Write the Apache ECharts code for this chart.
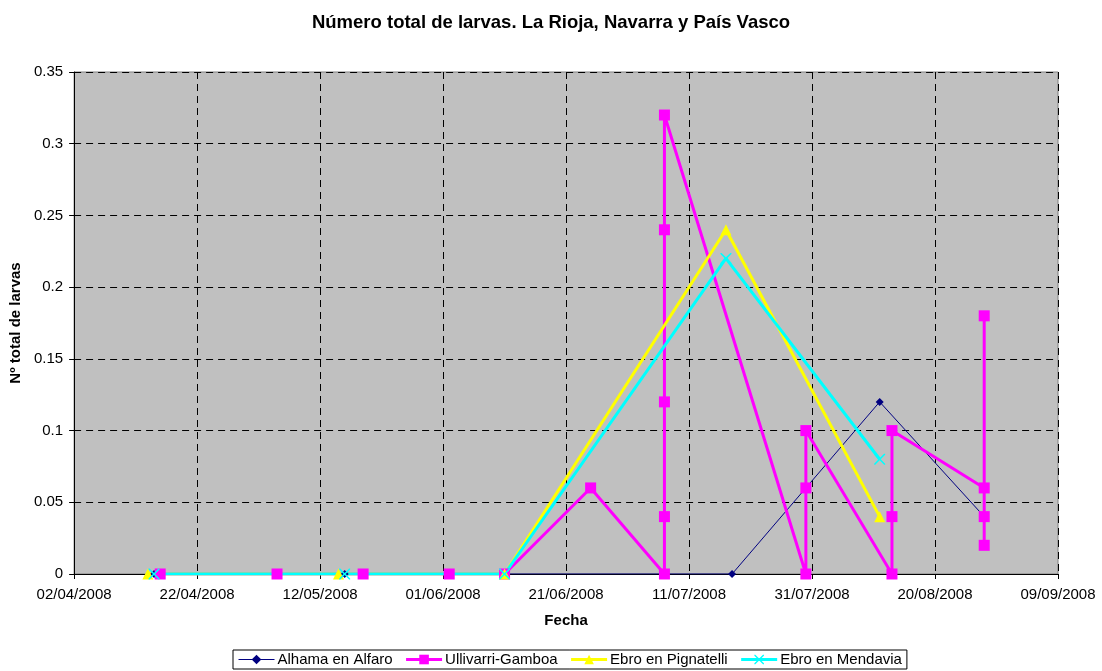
<!DOCTYPE html>
<html>
<head>
<meta charset="utf-8">
<script src="https://cdn.jsdelivr.net/npm/echarts@6/dist/echarts.min.js"></script>
<style>
html,body{margin:0;padding:0;background:#fff;}
#chart{width:1102px;height:671px;}
</style>
</head>
<body>
<div id="chart"></div>
<script>
// ---- Data ----
var startDate = '2008-04-02';
var xTickStepDays = 20;
var xMaxDays = 160;
var yTicks = [0, 0.05, 0.1, 0.15, 0.2, 0.25, 0.3, 0.35];

var seriesNames = ['Alhama en Alfaro', 'Ullivarri-Gamboa', 'Ebro en Pignatelli', 'Ebro en Mendavia'];

var alhamaDates  = ['2008-04-15', '2008-05-16', '2008-06-11', '2008-07-18', '2008-08-11', '2008-08-28'];
var alhamaValues = [0, 0, 0, 0, 0.12, 0.04];

var ullivarriDates  = ['2008-04-16', '2008-05-05', '2008-05-19', '2008-06-02', '2008-06-11', '2008-06-25',
                       '2008-07-07', '2008-07-07', '2008-07-07', '2008-07-07', '2008-07-07',
                       '2008-07-30', '2008-07-30', '2008-07-30',
                       '2008-08-13', '2008-08-13', '2008-08-13',
                       '2008-08-28', '2008-08-28', '2008-08-28', '2008-08-28'];
var ullivarriValues = [0, 0, 0, 0, 0, 0.06,
                       0, 0.04, 0.12, 0.24, 0.32,
                       0, 0.06, 0.1,
                       0, 0.04, 0.1,
                       0.06, 0.04, 0.02, 0.18];

var pignatelliDates  = ['2008-04-14', '2008-05-15', '2008-06-11', '2008-07-17', '2008-08-11'];
var pignatelliValues = [0, 0, 0, 0.24, 0.04];

var mendaviaDates  = ['2008-04-15', '2008-05-16', '2008-06-11', '2008-07-17', '2008-08-11'];
var mendaviaValues = [0, 0, 0, 0.22, 0.08];

// ---- Helpers ----
var DAY = 86400000;
function toMs(s){ var p = s.split('-'); return Date.UTC(+p[0], +p[1]-1, +p[2]); }
var startMs = toMs(startDate);
function dayOffset(s){ return Math.round((toMs(s) - startMs) / DAY); }
function pairs(dates, vals){ return dates.map(function(d,i){ return [dayOffset(d), vals[i]]; }); }
function pad(n){ return (n < 10 ? '0' : '') + n; }
function fmtDay(v){
  var d = new Date(startMs + v * DAY);
  return pad(d.getUTCDate()) + '/' + pad(d.getUTCMonth()+1) + '/' + d.getUTCFullYear();
}

var FONT = 'Liberation Sans, Arial, sans-serif';
var xSymbol = 'path://M0,0 L2,0 L10,8 L18,0 L20,0 L20,2 L12,10 L20,18 L20,20 L18,20 L10,12 L2,20 L0,20 L0,18 L8,10 L0,2 Z';

var styles = [
  {color:'#000080', width:1, symbol:'diamond', size:8},
  {color:'#FF00FF', width:3, symbol:'rect', size:11},
  {color:'#FFFF00', width:3, symbol:'triangle', size:11},
  {color:'#00FFFF', width:3, symbol:xSymbol, size:11}
];
var allData = [
  pairs(alhamaDates, alhamaValues),
  pairs(ullivarriDates, ullivarriValues),
  pairs(pignatelliDates, pignatelliValues),
  pairs(mendaviaDates, mendaviaValues)
];

var series = [];
allData.forEach(function(d, i){
  var st = styles[i];
  series.push({
    name: seriesNames[i], type:'line', data:d, z:2,
    symbol: st.symbol, symbolSize: st.size, showSymbol:false,
    lineStyle:{color:st.color, width:st.width},
    itemStyle:{color:st.color},
    animation:false
  });
});
allData.forEach(function(d, i){
  var st = styles[i];
  series.push({
    type:'scatter', data:d, z:3,
    symbol: st.symbol, symbolSize: st.size,
    itemStyle:{color:st.color, opacity:1},
    silent:true, animation:false
  });
});

var chart = echarts.init(document.getElementById('chart'), null, {renderer:'canvas'});
chart.setOption({
  backgroundColor:'#fff',
  textStyle:{fontFamily:FONT},
  title:{
    text:'Número total de larvas. La Rioja, Navarra y País Vasco',
    left:'center', top:8,
    textStyle:{fontSize:18.5, fontWeight:'bold', color:'#000', fontFamily:FONT}
  },
  grid:{left:74, right:44, top:72, bottom:97, show:true, backgroundColor:'#C0C0C0', borderColor:'#808080', borderWidth:1},
  legend:{
    data: seriesNames.map(function(n, i){ return {name:n, lineStyle:{width:styles[i].width}}; }),
    bottom:2, left:233,
    borderColor:'#000', borderWidth:1, backgroundColor:'#fff',
    padding:[2,5], itemGap:12, itemWidth:36, itemHeight:12,
    textStyle:{fontSize:15, color:'#000', fontFamily:FONT, padding:[0,0,0,-2]}
  },
  xAxis:{
    type:'value', min:0, max:xMaxDays, interval:xTickStepDays,
    name:'Fecha', nameLocation:'middle', nameGap:39,
    nameTextStyle:{fontSize:15, fontWeight:'bold', color:'#000'},
    axisLine:{show:true, onZero:false, lineStyle:{color:'#000', width:1}},
    axisTick:{show:true, inside:false, length:5, lineStyle:{color:'#000'}},
    axisLabel:{formatter:fmtDay, fontSize:15, color:'#000', margin:13},
    splitLine:{show:true, lineStyle:{color:'#000', type:[7,5], width:1}}
  },
  yAxis:{
    type:'value', min:yTicks[0], max:yTicks[yTicks.length-1], interval:0.05,
    name:'Nº total de larvas', nameLocation:'middle', nameGap:49, nameRotate:90,
    nameTextStyle:{fontSize:15, fontWeight:'bold', color:'#000'},
    axisLine:{show:true, lineStyle:{color:'#000', width:1}},
    axisTick:{show:true, length:5, lineStyle:{color:'#000'}},
    axisLabel:{formatter:function(v){ return String(+v.toFixed(2)); }, fontSize:15, color:'#000', margin:11},
    splitLine:{show:true, lineStyle:{color:'#000', type:[7,5], width:1}}
  },
  series: series
});
</script>
</body>
</html>
